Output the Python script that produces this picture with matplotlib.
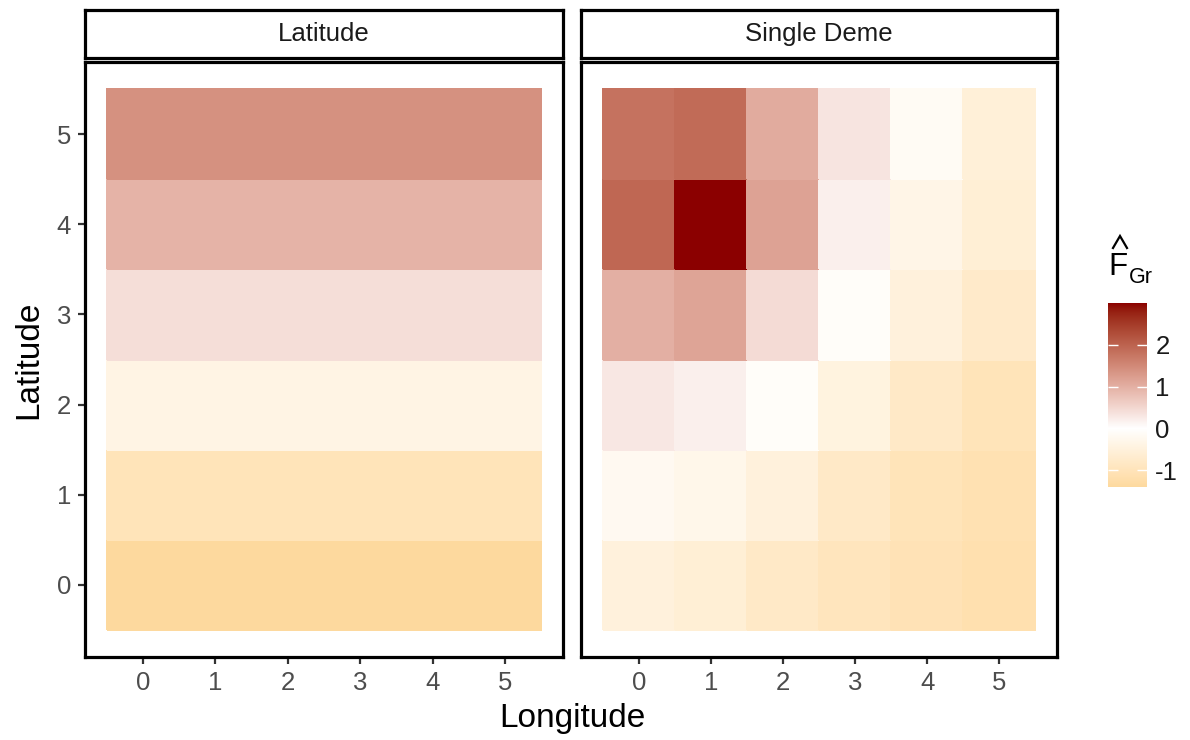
import numpy as np
import matplotlib
matplotlib.use("Agg")
import matplotlib.pyplot as plt
from matplotlib.colors import ListedColormap, Normalize
from matplotlib.lines import Line2D

plt.rcParams['font.family'] = ['Liberation Sans', 'DejaVu Sans']

# ---------------- data ----------------
longitude = [0, 1, 2, 3, 4, 5]
latitude = [0, 1, 2, 3, 4, 5]
panels = ["Latitude", "Single Deme"]

# rows = latitude 0..5, columns = longitude 0..5
latitude_vals = [
    [-1.40, -1.40, -1.40, -1.40, -1.40, -1.40],
    [-1.00, -1.00, -1.00, -1.00, -1.00, -1.00],
    [-0.38, -0.38, -0.38, -0.38, -0.38, -0.38],
    [0.42, 0.42, 0.42, 0.42, 0.42, 0.42],
    [0.96, 0.96, 0.96, 0.96, 0.96, 0.96],
    [1.40, 1.40, 1.40, 1.40, 1.40, 1.40],
]
single_deme_vals = [
    [-0.50, -0.60, -0.80, -0.95, -1.05, -1.15],
    [-0.20, -0.30, -0.50, -0.80, -1.00, -1.10],
    [0.30, 0.20, -0.08, -0.45, -0.80, -1.00],
    [1.00, 1.15, 0.45, -0.08, -0.50, -0.75],
    [1.95, 3.00, 1.17, 0.20, -0.35, -0.60],
    [1.80, 1.90, 1.05, 0.33, -0.15, -0.55],
]
cbar_ticks = [-1, 0, 1, 2]
vmin, vmax = -1.4, 3.0

# ---------------- colour scale (Lab interpolation, like gradient2) ----------------
def srgb_to_lab(rgb):
    rgb = np.asarray(rgb, float)
    lin = np.where(rgb <= 0.04045, rgb / 12.92, ((rgb + 0.055) / 1.055) ** 2.4)
    M = np.array([[0.4124, 0.3576, 0.1805],
                  [0.2126, 0.7152, 0.0722],
                  [0.0193, 0.1192, 0.9505]])
    xyz = M @ lin
    wp = np.array([0.95047, 1.0, 1.08883])
    r = xyz / wp
    f = np.where(r > 216 / 24389, np.cbrt(r), (24389 / 27 * r + 16) / 116)
    L = 116 * f[1] - 16
    a = 500 * (f[0] - f[1])
    b = 200 * (f[1] - f[2])
    return np.array([L, a, b])

def lab_to_srgb(lab):
    L, a, b = lab
    fy = (L + 16) / 116
    fx = fy + a / 500
    fz = fy - b / 200
    def finv(t):
        return np.where(t ** 3 > 216 / 24389, t ** 3, (116 * t - 16) / (24389 / 27))
    wp = np.array([0.95047, 1.0, 1.08883])
    xyz = np.array([finv(fx), finv(fy), finv(fz)]) * wp
    Minv = np.array([[3.2406, -1.5372, -0.4986],
                     [-0.9689, 1.8758, 0.0415],
                     [0.0557, -0.2040, 1.0570]])
    lin = Minv @ xyz
    lin = np.clip(lin, 0, 1)
    rgb = np.where(lin <= 0.0031308, 12.92 * lin, 1.055 * lin ** (1 / 2.4) - 0.055)
    return np.clip(rgb, 0, 1)

white = srgb_to_lab([1, 1, 1])
high = srgb_to_lab(np.array([139, 0, 0]) / 255)
low_end = srgb_to_lab(np.array([253, 217, 158]) / 255)

vals = np.linspace(vmin, vmax, 512)
cols = []
for v in vals:
    if v >= 0:
        t = v / vmax
        lab = white + (high - white) * t
    else:
        t = v / vmin
        lab = white + (low_end - white) * t
    cols.append(lab_to_srgb(lab))
cmap = ListedColormap(np.array(cols))
norm = Normalize(vmin=vmin, vmax=vmax)

# ---------------- figure ----------------
W, H = 1190, 740
fig = plt.figure(figsize=(W / 100, H / 100), dpi=100)

panel_x = [(85, 563), (581, 1057)]
py0, py1 = 62, 657
strip_y0, strip_y1 = 10, 58
data_sets = [latitude_vals, single_deme_vals]

edges_x = np.array(longitude + [longitude[-1] + 1]) - 0.5
edges_y = np.array(latitude + [latitude[-1] + 1]) - 0.5
tick_color = "#4D4D4D"
bw = 2.3

for i, (x0, x1) in enumerate(panel_x):
    ax = fig.add_axes([x0 / W, 1 - py1 / H, (x1 - x0) / W, (py1 - py0) / H])
    ax.pcolormesh(edges_x, edges_y, np.array(data_sets[i]), cmap=cmap, norm=norm,
                  edgecolors='face', linewidth=0.3)
    ax.set_xlim(-0.8, 5.8)
    ax.set_ylim(-0.8, 5.8)
    ax.set_xticks(longitude)
    ax.set_yticks(latitude)
    for s in ax.spines.values():
        s.set_linewidth(bw)
        s.set_color("black")
    ax.tick_params(axis='both', length=5, width=1.6, color="#333333",
                   labelsize=18.5, labelcolor=tick_color, pad=5)
    if i > 0:
        ax.tick_params(axis='y', left=False, labelleft=False)

    # strip
    sax = fig.add_axes([x0 / W, 1 - strip_y1 / H, (x1 - x0) / W, (strip_y1 - strip_y0) / H])
    sax.set_xticks([])
    sax.set_yticks([])
    sax.set_facecolor("white")
    for s in sax.spines.values():
        s.set_linewidth(bw)
        s.set_color("black")
    sax.text(0.5, 0.5, panels[i], ha='center', va='center', fontsize=18.5,
             color="#1A1A1A", transform=sax.transAxes)

fig.text(29 / W, 1 - 360 / H, "Latitude", rotation=90, ha='center', va='center',
         fontsize=24)
fig.text(572 / W, 1 - 718 / H, "Longitude", ha='center', va='center', fontsize=24)

# colorbar
cax = fig.add_axes([1108 / W, 1 - 487 / H, 39 / W, 184 / H])
sm = plt.cm.ScalarMappable(cmap=cmap, norm=norm)
cb = fig.colorbar(sm, cax=cax, ticks=cbar_ticks)
cb.outline.set_visible(False)
cax.tick_params(axis='y', direction='in', color='white', length=7, width=1,
                left=True, right=True, labelleft=False, labelright=True,
                labelsize=18.5, labelcolor="#1A1A1A", pad=6)
cax.set_yticklabels([str(t) for t in cbar_ticks])

# legend title: F-hat with subscript Gr
fig.text(1108 / W, 1 - 275 / H, "F", ha='left', va='baseline', fontsize=22.5)
fig.text(1129 / W, 1 - 283 / H, "Gr", ha='left', va='baseline', fontsize=15.5)
hat = Line2D([1113 / W, 1120 / W, 1127 / W],
             [1 - 248 / H, 1 - 236 / H, 1 - 248 / H],
             transform=fig.transFigure, color='black', linewidth=1.6,
             solid_joinstyle='miter')
fig.add_artist(hat)

fig.savefig("out.png", dpi=100)
